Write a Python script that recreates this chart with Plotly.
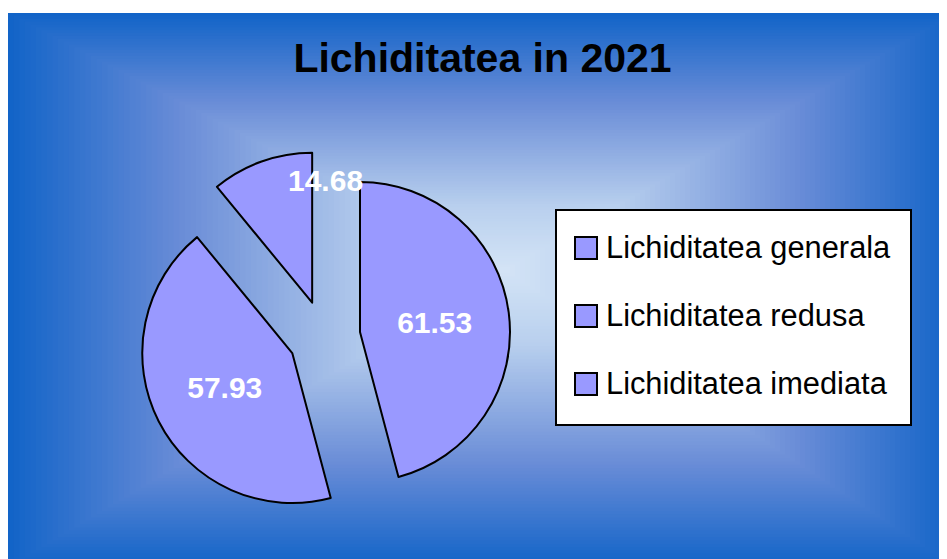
import plotly.graph_objects as go

# ---- data ----
title_text = "Lichiditatea in 2021"
labels = ["Lichiditatea generala", "Lichiditatea redusa", "Lichiditatea imediata"]
values = [61.53, 57.93, 14.68]
slice_color = "#9999FF"

W, H = 947, 559
FONT = "Liberation Sans, Arial, sans-serif"

fig = go.Figure()

# the smallest slice's label is placed separately (as in the original, above the slice)
slice_text = ["%.2f" % v for v in values]
slice_text[2] = ""

fig.add_trace(go.Pie(
    labels=labels,
    values=values,
    sort=False,
    direction="clockwise",
    rotation=0,
    pull=[0.24, 0.24, 0.24],
    marker=dict(colors=[slice_color] * 3, line=dict(color="black", width=2)),
    text=slice_text,
    textinfo="text",
    textposition="inside",
    insidetextorientation="horizontal",
    textfont=dict(family=FONT, size=30, color="white", weight="bold"),
    domain=dict(x=[130.3 / W, 502.3 / W], y=[44.4 / H, 416.4 / H]),
    showlegend=False,
    hoverinfo="label+value",
))

shapes = []

# ---- background: rectangular "from center" gradient ----
x0, x1, y0, y1 = 0, W, 5, H
cx, cy = 497, 262
stops = [(0.0, (212, 228, 246)), (0.25, (185, 208, 238)), (0.66, (105, 140, 215)), (1.0, (18, 100, 200))]


def col_at(t):
    for (ta, ca), (tb, cb) in zip(stops[:-1], stops[1:]):
        if ta <= t <= tb:
            f = (t - ta) / (tb - ta)
            return "rgb(%d,%d,%d)" % tuple(round(a + (b - a) * f) for a, b in zip(ca, cb))
    return "rgb(%d,%d,%d)" % stops[-1][1]


N = 90
for i in range(N, 0, -1):
    t = i / N
    l = cx - t * (cx - x0)
    r = cx + t * (x1 - cx)
    tp = cy - t * (cy - y0)
    bt = cy + t * (y1 - cy)
    shapes.append(dict(type="rect", xref="paper", yref="paper",
                       x0=l / W, x1=r / W, y0=1 - bt / H, y1=1 - tp / H,
                       fillcolor=col_at(t), line=dict(width=0), layer="below"))

annotations = []

# label of the small slice
annotations.append(dict(text="<b>%.2f</b>" % values[2], xref="paper", yref="paper",
                        x=317 / W, y=1 - 172 / H, xanchor="center", yanchor="middle",
                        showarrow=False, font=dict(family=FONT, size=30, color="white")))

# ---- custom legend ----
lx0, lx1, ly0, ly1 = 548, 903, 202, 417
shapes.append(dict(type="rect", xref="paper", yref="paper",
                   x0=lx0 / W, x1=lx1 / W, y0=1 - ly1 / H, y1=1 - ly0 / H,
                   fillcolor="white", line=dict(color="black", width=2), layer="below"))
row_y = [240, 308, 376]
for lab, ry in zip(labels, row_y):
    shapes.append(dict(type="rect", xref="paper", yref="paper",
                       x0=567 / W, x1=589 / W, y0=1 - (ry + 11) / H, y1=1 - (ry - 11) / H,
                       fillcolor=slice_color, line=dict(color="black", width=2), layer="below"))
    annotations.append(dict(text=lab, xref="paper", yref="paper", x=596 / W, y=1 - (ry - 1) / H,
                            xanchor="left", yanchor="middle", showarrow=False,
                            font=dict(family=FONT, size=30.8, color="black")))

fig.update_layout(
    width=W, height=H,
    margin=dict(l=0, r=0, t=0, b=0),
    paper_bgcolor="white",
    plot_bgcolor="white",
    title=dict(text="<b>" + title_text + "</b>", x=474.5 / W, xanchor="center",
               y=1 - 50 / H, yanchor="middle", yref="container",
               font=dict(family=FONT, size=41, color="black")),
    shapes=shapes,
    annotations=annotations,
    showlegend=False,
)

fig.write_html("out.html")
